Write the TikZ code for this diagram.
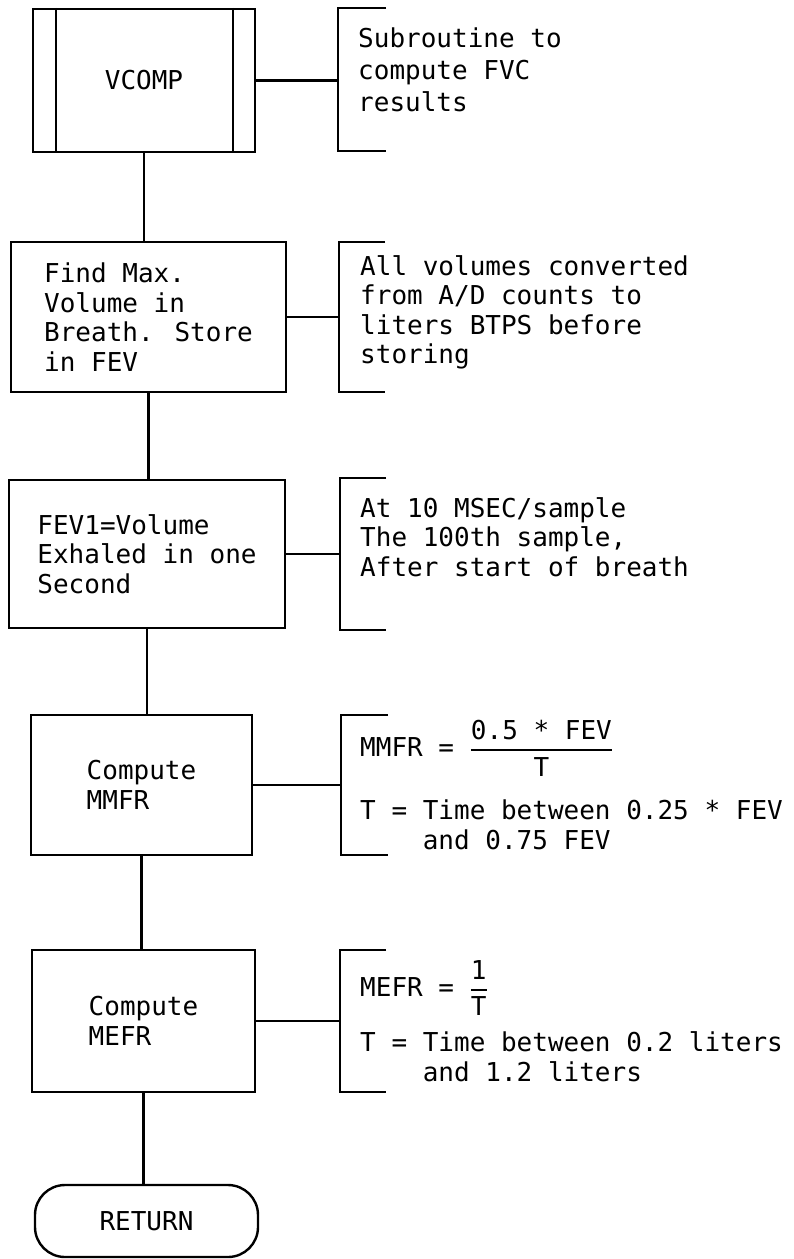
\documentclass[tikz,border=0pt]{standalone}
\usepackage{amsmath}
\usepackage{fontspec}
\setmainfont{DejaVu Sans Mono}

\begin{document}
\begin{tikzpicture}[x=1pt,y=-1pt,line width=2.4pt,
  every node/.style={font=\fontsize{26pt}{29.5pt}\selectfont},
  proc/.style={draw,align=left,inner sep=0pt},
  note/.style={anchor=north west,align=left,inner sep=0pt}]
\useasboundingbox (0,0) rectangle (794,1259);
% ---------- VCOMP (predefined process) ----------
\node[proc,minimum width=222pt,minimum height=143pt] (vcomp) at (144,80.5) {VCOMP};
\draw ([xshift=24pt]vcomp.north west) -- ([xshift=24pt]vcomp.south west);
\draw ([xshift=-23pt]vcomp.north east) -- ([xshift=-23pt]vcomp.south east);
\draw (386,8) -- (338,8) -- (338,151) -- (386,151);
\coordinate (vcompbr) at (338,80.5);
\node[note,font=\fontsize{26pt}{32pt}\selectfont] (vcompnote) at (357,27)
  {Subroutine to\\compute FVC\\results};
\draw (vcomp.east) -- (vcompbr);
% ---------- find max. volume ----------
\node[proc,minimum width=275pt,minimum height=150pt] (findmax) at (148.5,317)
  {Find Max.\\Volume in\\Breath. Store\\in FEV};
\draw (385,242) -- (339,242) -- (339,392) -- (385,392);
\coordinate (findbr) at (339,317);
\node[note] (findnote) at (359,254)
  {All volumes converted\\from A/D counts to\\liters BTPS before\\storing};
\draw (findmax.east) -- (findbr);
% ---------- FEV1 ----------
\node[proc,minimum width=276pt,minimum height=148pt] (fevone) at (147,554)
  {FEV1=Volume\\Exhaled in one\\Second};
\draw (386,478) -- (340,478) -- (340,630) -- (386,630);
\coordinate (fevbr) at (340,554);
\node[note] (fevnote) at (359,496)
  {At 10 MSEC/sample\\The 100th sample,\\After start of breath};
\draw (fevone.east) -- (fevbr);
% ---------- MMFR ----------
\node[proc,minimum width=221pt,minimum height=140pt] (mmfr) at (141.5,785)
  {Compute\\MMFR};
\draw (388,715) -- (341,715) -- (341,855) -- (388,855);
\coordinate (mmfrbr) at (341,785);
\node[note] (mmfrnote) at (359,719)
  {MMFR = $\genfrac{}{}{2pt}{0}{\text{0.5 * FEV}}{\text{T}}$\\[23pt]
   T = Time between 0.25 * FEV\\\phantom{T = }and 0.75 FEV};
\draw (mmfr.east) -- (mmfrbr);
% ---------- MEFR ----------
\node[proc,minimum width=223pt,minimum height=142pt] (mefr) at (143.5,1021)
  {Compute\\MEFR};
\draw (386,950) -- (340,950) -- (340,1092) -- (386,1092);
\coordinate (mefrbr) at (340,1021);
\node[note] (mefrnote) at (359,959)
  {MEFR = $\genfrac{}{}{2pt}{0}{\text{1}}{\text{T}}$\\[15pt]
   T = Time between 0.2 liters\\\phantom{T = }and 1.2 liters};
\draw (mefr.east) -- (mefrbr);
% ---------- RETURN ----------
\node[draw,rounded corners=30pt,minimum width=223pt,minimum height=72pt] (ret) at (146.5,1221) {RETURN};
% ---------- main line ----------
\draw (vcomp.south) -- (vcomp.south |- findmax.north);
\draw (findmax.south) -- (findmax.south |- fevone.north);
\draw (fevone.south) -- (fevone.south |- mmfr.north);
\draw (mmfr.south) -- (mmfr.south |- mefr.north);
\draw (mefr.south) -- (mefr.south |- ret.north);
\end{tikzpicture}
\end{document}
